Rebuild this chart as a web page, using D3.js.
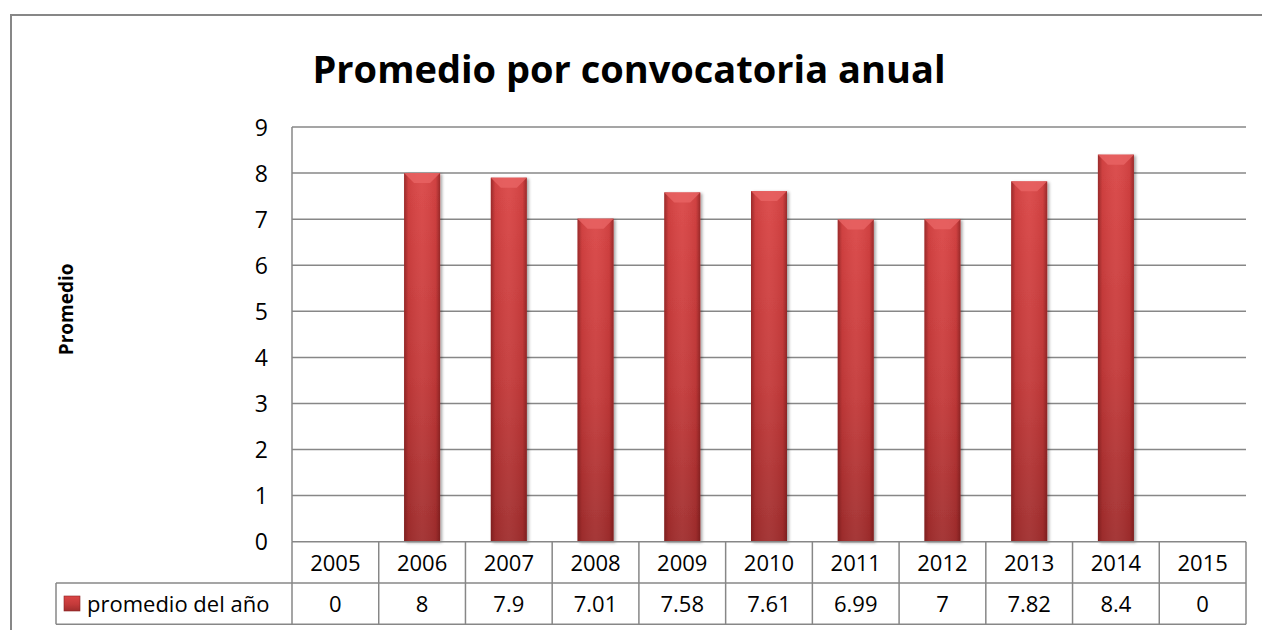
<!DOCTYPE html>
<html>
<head>
<meta charset="utf-8">
<script src="https://cdn.jsdelivr.net/npm/d3@7"></script>
<style>
  body { margin: 0; background: #fff; }
  svg { display: block; font-family: "Open Sans", "Noto Sans", sans-serif; }
</style>
</head>
<body>
<div class="chart"></div>
<script>
var years = ["2005","2006","2007","2008","2009","2010","2011","2012","2013","2014","2015"];
var promedios = [0, 8, 7.9, 7.01, 7.58, 7.61, 6.99, 7, 7.82, 8.4, 0];
var yTicks = [0,1,2,3,4,5,6,7,8,9];
var serieName = "promedio del año";
var title = "Promedio por convocatoria anual";

var W = 1262, H = 630;
var plot = {left: 292, right: 1246, top: 127, bottom: 541.7};
var rowH = 41.3;

var svg = d3.select('.chart')
  .append('svg')
  .attr('width', W)
  .attr('height', H);

var defs = svg.append('defs');
var vg = defs.append('linearGradient').attr('id', 'barV').attr('x1', 0).attr('y1', 0).attr('x2', 0).attr('y2', 1);
vg.append('stop').attr('offset', '0%').attr('stop-color', '#da4545');
vg.append('stop').attr('offset', '55%').attr('stop-color', '#c43a3a');
vg.append('stop').attr('offset', '100%').attr('stop-color', '#a02d2d');
var hg = defs.append('linearGradient').attr('id', 'barH').attr('x1', 0).attr('y1', 0).attr('x2', 1).attr('y2', 0);
hg.append('stop').attr('offset', '0%').attr('stop-color', '#5a1010').attr('stop-opacity', 0.5);
hg.append('stop').attr('offset', '12%').attr('stop-color', '#5a1010').attr('stop-opacity', 0.08);
hg.append('stop').attr('offset', '50%').attr('stop-color', '#ffffff').attr('stop-opacity', 0.05);
hg.append('stop').attr('offset', '88%').attr('stop-color', '#5a1010').attr('stop-opacity', 0.08);
hg.append('stop').attr('offset', '100%').attr('stop-color', '#5a1010').attr('stop-opacity', 0.5);
var fl = defs.append('filter').attr('id', 'shadow').attr('x', '-20%').attr('y', '-5%').attr('width', '150%').attr('height', '110%');
fl.append('feDropShadow').attr('dx', 2).attr('dy', 1).attr('stdDeviation', 1.5).attr('flood-color', '#000').attr('flood-opacity', 0.35);

// outer chart border
svg.append('rect')
  .attr('x', 11).attr('y', 15)
  .attr('width', W + 20).attr('height', H + 20)
  .style('fill', 'none').style('stroke', '#878787').style('stroke-width', 2);

svg.append('text')
  .attr('x', 629).attr('y', 83)
  .attr('text-anchor', 'middle')
  .style('font-size', '38px').style('font-weight', 'bold')
  .text(title);

var x = d3.scaleBand().domain(years).range([plot.left, plot.right]);
var y = d3.scaleLinear().domain([0, 9]).range([plot.bottom, plot.top]);

// gridlines
svg.append('g').selectAll('line')
  .data(yTicks.filter(function (d) { return d > 0; }))
  .enter().append('line')
  .attr('x1', plot.left).attr('x2', plot.right)
  .attr('y1', function (d) { return y(d); })
  .attr('y2', function (d) { return y(d); })
  .style('stroke', '#878787').style('stroke-width', 1.5);

svg.append('line')
  .attr('x1', plot.left).attr('x2', plot.left)
  .attr('y1', plot.top).attr('y2', plot.bottom)
  .style('stroke', '#878787').style('stroke-width', 1.5);

svg.append('g').selectAll('text')
  .data(yTicks)
  .enter().append('text')
  .attr('x', 268)
  .attr('y', function (d) { return y(d) + 8.5; })
  .attr('text-anchor', 'end')
  .style('font-size', '23px')
  .text(function (d) { return d; });

svg.append('text')
  .attr('transform', 'translate(73,' + ((plot.top + plot.bottom) / 2 - 25) + ') rotate(-90)')
  .attr('text-anchor', 'middle')
  .style('font-size', '19px').style('font-weight', 'bold')
  .text('Promedio');

// bars
var bw = 36;
var bars = svg.append('g').selectAll('g')
  .data(years.map(function (d, i) { return {year: d, v: promedios[i]}; }).filter(function (d) { return d.v > 0; }))
  .enter().append('g')
  .attr('transform', function (d) { return 'translate(' + (x(d.year) + x.bandwidth() / 2 - bw / 2) + ',0)'; });

bars.append('rect')
  .attr('y', function (d) { return y(d.v); })
  .attr('width', bw)
  .attr('height', function (d) { return plot.bottom - y(d.v); })
  .style('fill', 'url(#barV)')
  .attr('filter', 'url(#shadow)');
bars.append('rect')
  .attr('y', function (d) { return y(d.v); })
  .attr('width', bw)
  .attr('height', function (d) { return plot.bottom - y(d.v); })
  .style('fill', 'url(#barH)');
bars.append('path')
  .attr('d', function (d) {
    var t = y(d.v);
    return 'M0,' + t + 'H' + bw + 'L' + (bw - 10) + ',' + (t + 10) + 'H10Z';
  })
  .style('fill', '#e86464').style('opacity', 0.8);

// data table
var tbl = svg.append('g').style('stroke', '#878787').style('stroke-width', 1.5);
var r1 = plot.bottom, r2 = plot.bottom + rowH, r3 = plot.bottom + 2 * rowH;
tbl.append('line').attr('x1', plot.left).attr('x2', plot.right).attr('y1', r1).attr('y2', r1);
tbl.append('line').attr('x1', 56).attr('x2', plot.right).attr('y1', r2).attr('y2', r2);
tbl.append('line').attr('x1', 56).attr('x2', plot.right).attr('y1', r3).attr('y2', r3);
tbl.append('line').attr('x1', 56).attr('x2', 56).attr('y1', r2).attr('y2', r3);
tbl.selectAll('line.v')
  .data(years.concat(['end']))
  .enter().append('line')
  .attr('class', 'v')
  .attr('x1', function (d) { return d === 'end' ? plot.right : x(d); })
  .attr('x2', function (d) { return d === 'end' ? plot.right : x(d); })
  .attr('y1', r1).attr('y2', r3);

svg.append('g').selectAll('text')
  .data(years)
  .enter().append('text')
  .attr('x', function (d) { return x(d) + x.bandwidth() / 2; })
  .attr('y', r1 + 29)
  .attr('text-anchor', 'middle')
  .style('font-size', '22px')
  .text(function (d) { return d; });

svg.append('g').selectAll('text')
  .data(promedios)
  .enter().append('text')
  .attr('x', function (d, i) { return x(years[i]) + x.bandwidth() / 2; })
  .attr('y', r2 + 29)
  .attr('text-anchor', 'middle')
  .style('font-size', '22px')
  .text(function (d) { return d; });

svg.append('rect')
  .attr('x', 64).attr('y', 596).attr('width', 16).attr('height', 15)
  .style('fill', 'url(#barV)').style('stroke', '#8a2222').style('stroke-width', 0.6);
svg.append('text')
  .attr('x', 87).attr('y', r2 + 29)
  .style('font-size', '22px')
  .text(serieName);
</script>
</body>
</html>
